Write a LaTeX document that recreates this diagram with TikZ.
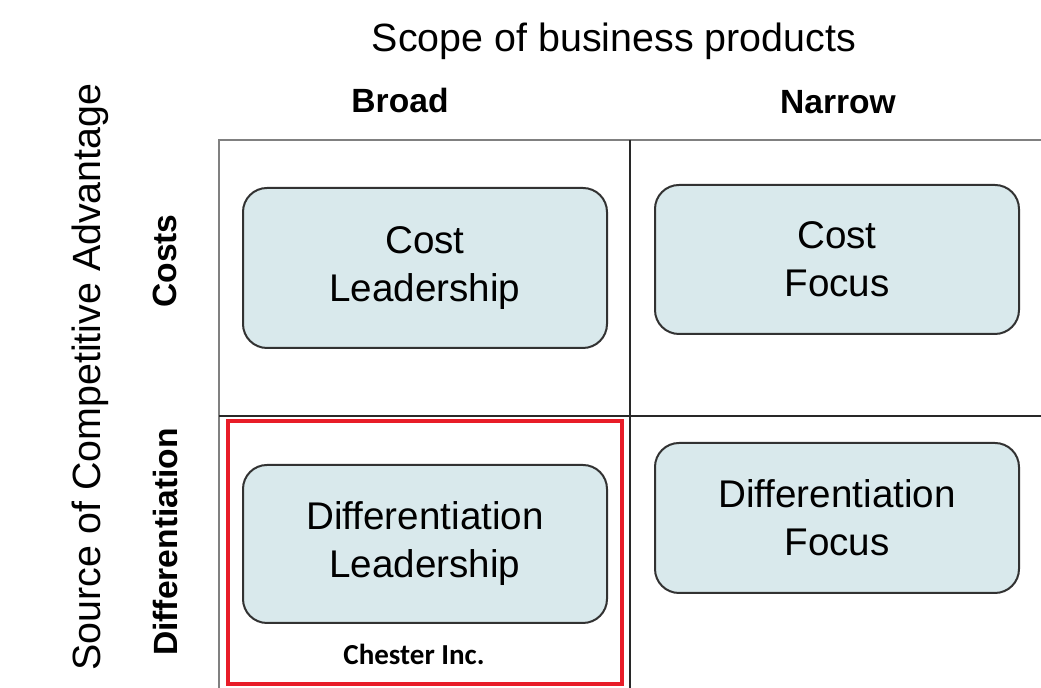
\documentclass[tikz,border=0pt]{standalone}
\usepackage{fontspec}
\setmainfont{Liberation Sans}
\newfontfamily\calibrifont{Carlito}
\definecolor{cellfill}{RGB}{217, 233, 236}
\definecolor{cellline}{RGB}{50, 50, 50}
\definecolor{gridouter}{RGB}{128, 128, 128}
\definecolor{gridinner}{RGB}{40, 40, 40}
\definecolor{markred}{RGB}{232, 28, 40}
\usepackage{tikz}
\usetikzlibrary{positioning}

\begin{document}
\begin{tikzpicture}[x=0.5pt, y=-0.5pt,
  cell/.style={draw=cellline, line width=1pt, rounded corners=12pt, fill=cellfill,
               minimum width=182pt, align=center, inner sep=0pt,
               font=\fontsize{19.3}{24}\selectfont},
  axislabel/.style={font=\fontsize{19.7}{24}\selectfont},
  catlabel/.style={font=\bfseries\fontsize{16.8}{20}\selectfont},
]
\useasboundingbox (0, 0) rectangle (1041, 688);

% Header
\node[axislabel, anchor=base] (scope) at (614, 52) {Scope of business products};
\node[catlabel, anchor=base] (broad) at (400, 113) {Broad};
\node[catlabel, anchor=base] (narrow) at (838, 114) {Narrow};

% Side labels
\node[axislabel, rotate=90] (source) at (90, 377) {Source of Competitive Advantage};
\node[catlabel, rotate=90] (costs) at (165, 261) {Costs};
\node[catlabel, rotate=90] (diff) at (165, 542) {Differentiation};

% Grid
\draw[gridouter, line width=0.75pt] (219, 688) -- (219, 140) -- (1041, 140);
\draw[gridinner, line width=0.75pt] (630, 140) -- (630, 688);
\draw[gridinner, line width=0.75pt] (219, 416) -- (1041, 416);

% Strategies
\node[cell, minimum height=80pt] (costlead) at (425, 268) {Cost\\Leadership};
\node[cell, minimum height=74.5pt] (costfocus) at (837, 259.5) {Cost\\Focus};
\node[cell, minimum height=79pt] (difflead) at (425, 544) {Differentiation\\Leadership};
\node[cell, minimum height=75pt] (difffocus) at (837, 518) {Differentiation\\Focus};

% Highlight
\draw[markred, line width=2pt] (228, 421) rectangle (622, 684);
\node[font=\calibrifont\bfseries\fontsize{14.5}{17}\selectfont, anchor=base] (chester) at (414, 665) {Chester Inc.};
\end{tikzpicture}
\end{document}
